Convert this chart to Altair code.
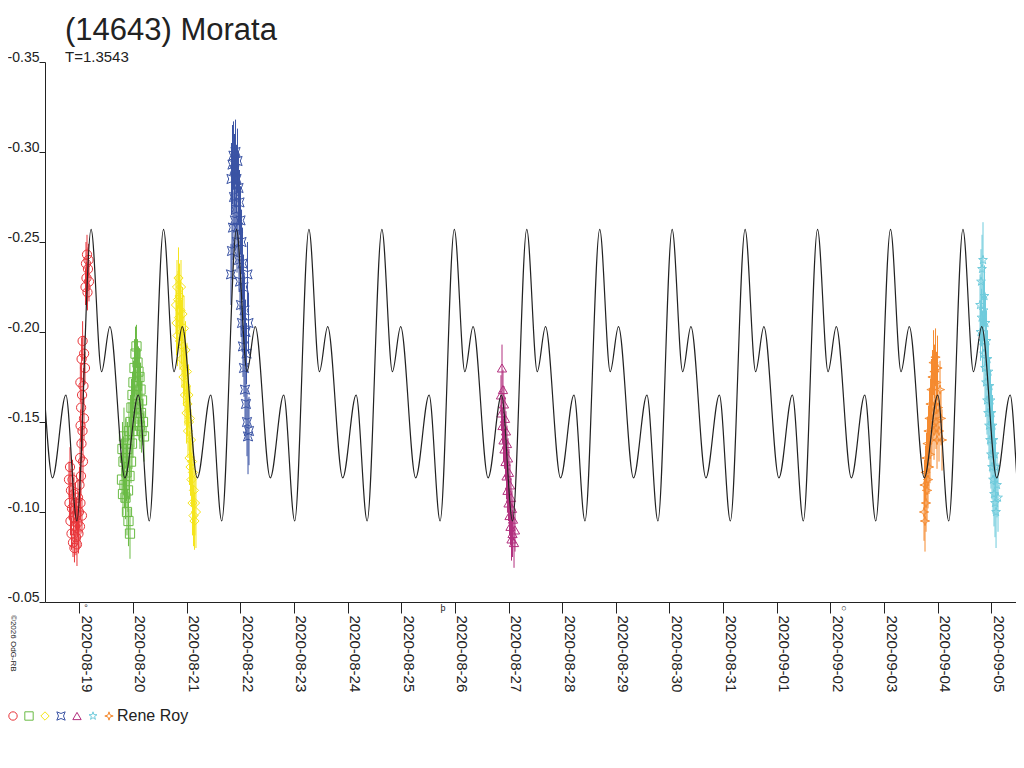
import altair as alt
import pandas as pd

# ---------------- observation sessions (days since 2020-08-19 00:00 UT, relative mag, error)
red_t = [-0.192, -0.183, -0.173, -0.164, -0.155, -0.145, -0.136, -0.127, -0.117, -0.108,
         -0.099, -0.090, -0.080, -0.071, -0.062, -0.052, -0.043, -0.034, -0.024, -0.015,
         -0.006, 0.004, 0.013, 0.022, 0.032, 0.050,
         0.015, 0.041, 0.069, 0.024, 0.060, 0.034, 0.088, 0.052, 0.020, 0.078,
         0.043, 0.090, 0.062, 0.106,
         0.116, 0.125, 0.134, 0.144, 0.153, 0.162, 0.172, 0.181]
red_m = [-0.118, -0.105, -0.125, -0.095, -0.112, -0.088, -0.102, -0.118, -0.083, -0.097,
         -0.110, -0.080, -0.092, -0.105, -0.086, -0.099, -0.082, -0.094, -0.108, -0.088,
         -0.100, -0.115, -0.092, -0.105, -0.120, -0.098,
         -0.130, -0.138, -0.128, -0.148, -0.145, -0.158, -0.152, -0.165, -0.172, -0.170,
         -0.185, -0.188, -0.195, -0.180,
         -0.225, -0.238, -0.230, -0.243, -0.222, -0.235, -0.240, -0.228]
red_e = [0.010, 0.009, 0.011, 0.008, 0.012, 0.009, 0.010, 0.011, 0.008, 0.010,
         0.012, 0.008, 0.009, 0.011, 0.010, 0.009, 0.012, 0.008, 0.010, 0.011,
         0.009, 0.010, 0.012, 0.009, 0.011, 0.010,
         0.011, 0.010, 0.012, 0.009, 0.011, 0.010, 0.012, 0.009, 0.011, 0.010,
         0.012, 0.010, 0.011, 0.009,
         0.010, 0.012, 0.009, 0.011, 0.010, 0.012, 0.009, 0.011]

green_t = [0.796, 0.805, 0.815, 0.824, 0.833, 0.843, 0.852, 0.861, 0.870, 0.880,
           0.889, 0.898, 0.908, 0.917, 0.926, 0.936, 0.945, 0.954, 0.964, 0.973,
           0.982, 0.992, 1.001, 1.010, 1.020, 1.029, 1.038, 1.048, 1.057, 1.066,
           1.075, 1.085, 1.094, 1.103, 1.113, 1.122, 1.131, 1.141, 1.150, 1.159,
           1.169, 1.187, 1.206]
green_m = [-0.118, -0.135, -0.110, -0.128, -0.142, -0.115, -0.130, -0.108, -0.138, -0.122,
           -0.100, -0.135, -0.112, -0.095, -0.145, -0.120, -0.088, -0.150, -0.128, -0.158,
           -0.138, -0.165, -0.145, -0.172, -0.150, -0.180, -0.158, -0.188, -0.165, -0.192,
           -0.170, -0.183, -0.160, -0.178, -0.152, -0.175, -0.148, -0.168, -0.155, -0.145,
           -0.162, -0.150, -0.142]
green_e = [0.013, 0.015, 0.012, 0.014, 0.016, 0.013, 0.015, 0.012, 0.014, 0.016,
           0.013, 0.015, 0.012, 0.014, 0.016, 0.013, 0.014, 0.015, 0.012, 0.016,
           0.014, 0.013, 0.015, 0.012, 0.014, 0.016, 0.013, 0.015, 0.014, 0.012,
           0.016, 0.013, 0.015, 0.014, 0.012, 0.016, 0.013, 0.015, 0.014, 0.012,
           0.015, 0.013, 0.014]

yellow_t = [1.802, 1.812, 1.821, 1.830, 1.840, 1.849, 1.858, 1.868, 1.877, 1.886,
            1.896, 1.905, 1.914, 1.924, 1.933, 1.942, 1.952, 1.961, 1.970, 1.980,
            1.989, 1.998, 2.007, 2.017, 2.026, 2.035, 2.045, 2.054, 2.063, 2.073,
            2.082, 2.091, 2.101, 2.110, 2.119, 2.129, 2.138, 2.147, 2.157, 2.175]
yellow_m = [-0.215, -0.205, -0.225, -0.198, -0.218, -0.230, -0.208, -0.220, -0.195, -0.212,
            -0.225, -0.200, -0.185, -0.210, -0.192, -0.175, -0.202, -0.180, -0.165, -0.190,
            -0.170, -0.155, -0.178, -0.160, -0.145, -0.165, -0.150, -0.130, -0.152, -0.125,
            -0.140, -0.118, -0.128, -0.105, -0.122, -0.098, -0.112, -0.095, -0.105, -0.100]
yellow_e = [0.016, 0.018, 0.015, 0.017, 0.016, 0.017, 0.015, 0.018, 0.016, 0.017,
            0.015, 0.018, 0.016, 0.015, 0.017, 0.016, 0.018, 0.015, 0.017, 0.016,
            0.015, 0.017, 0.016, 0.018, 0.015, 0.017, 0.016, 0.015, 0.018, 0.016,
            0.017, 0.015, 0.016, 0.018, 0.016, 0.017, 0.019, 0.016, 0.018, 0.020]

blue_t = [2.828, 2.837, 2.846, 2.856, 2.865, 2.874, 2.884, 2.893, 2.902, 2.912,
          2.921, 2.930, 2.940, 2.949, 2.958, 2.968, 2.977, 2.986, 2.996, 3.005,
          3.014, 3.024, 3.033, 3.042, 3.051, 3.061, 3.070, 3.079, 3.089, 3.098,
          3.107, 3.117, 3.126, 3.135, 3.145, 3.154, 3.163]
blue_m = [-0.232, -0.285, -0.245, -0.293, -0.258, -0.298, -0.275, -0.290, -0.262, -0.300,
          -0.268, -0.285, -0.250, -0.295, -0.258, -0.280, -0.240, -0.272, -0.228, -0.262,
          -0.215, -0.250, -0.205, -0.238, -0.192, -0.225, -0.180, -0.212, -0.168, -0.200,
          -0.160, -0.188, -0.150, -0.232, -0.142, -0.205, -0.145]
blue_e = [0.017, 0.020, 0.016, 0.022, 0.018, 0.019, 0.016, 0.020, 0.017, 0.018,
          0.016, 0.019, 0.017, 0.018, 0.016, 0.020, 0.017, 0.018, 0.016, 0.019,
          0.017, 0.018, 0.016, 0.020, 0.017, 0.018, 0.016, 0.019, 0.017, 0.018,
          0.020, 0.017, 0.019, 0.018, 0.021, 0.017, 0.019]

magenta_t = [7.860, 7.869, 7.879, 7.888, 7.897, 7.907, 7.916, 7.925, 7.935, 7.944,
             7.953, 7.963, 7.972, 7.981, 7.991, 8.000, 8.009, 8.019, 8.028, 8.037,
             8.047, 8.056, 8.065, 8.075, 8.084, 8.103, 8.121]
magenta_m = [-0.165, -0.155, -0.180, -0.148, -0.168, -0.140, -0.160, -0.135, -0.152, -0.128,
             -0.145, -0.120, -0.138, -0.112, -0.130, -0.105, -0.122, -0.098, -0.115, -0.092,
             -0.108, -0.085, -0.102, -0.088, -0.096, -0.083, -0.090]
magenta_e = [0.011, 0.010, 0.013, 0.010, 0.011, 0.012, 0.010, 0.011, 0.012, 0.010,
             0.011, 0.013, 0.010, 0.012, 0.011, 0.010, 0.013, 0.011, 0.012, 0.010,
             0.011, 0.012, 0.010, 0.013, 0.011, 0.014, 0.012]

orange_t = [15.745, 15.754, 15.763, 15.773, 15.782, 15.791, 15.801, 15.810, 15.819, 15.828,
            15.838, 15.847, 15.856, 15.866, 15.875, 15.884, 15.894, 15.903, 15.912, 15.922,
            15.931, 15.940, 15.950, 15.959, 15.968, 15.977, 15.987, 15.996, 16.005, 16.024,
            16.043, 16.061, 16.080]
orange_m = [-0.100, -0.115, -0.095, -0.122, -0.105, -0.130, -0.112, -0.138, -0.118, -0.145,
            -0.125, -0.152, -0.132, -0.160, -0.140, -0.168, -0.148, -0.175, -0.155, -0.183,
            -0.145, -0.178, -0.160, -0.186, -0.150, -0.172, -0.140, -0.180, -0.158, -0.145,
            -0.168, -0.152, -0.140]
orange_e = [0.016, 0.014, 0.017, 0.015, 0.016, 0.014, 0.017, 0.015, 0.016, 0.014,
            0.015, 0.017, 0.016, 0.014, 0.015, 0.017, 0.016, 0.015, 0.014, 0.018,
            0.016, 0.015, 0.017, 0.016, 0.015, 0.017, 0.016, 0.018, 0.015, 0.017,
            0.016, 0.015, 0.017]

cyan_t = [16.789, 16.798, 16.807, 16.817, 16.826, 16.835, 16.844, 16.854, 16.863, 16.872,
          16.882, 16.891, 16.900, 16.910, 16.919, 16.928, 16.938, 16.947, 16.956, 16.966,
          16.975, 16.984, 16.993, 17.003, 17.012, 17.021, 17.031, 17.040, 17.049, 17.059,
          17.068, 17.077, 17.087, 17.105, 17.124]
cyan_m = [-0.215, -0.200, -0.228, -0.208, -0.235, -0.195, -0.240, -0.212, -0.188, -0.220,
          -0.180, -0.205, -0.172, -0.195, -0.162, -0.185, -0.155, -0.178, -0.148, -0.170,
          -0.140, -0.162, -0.132, -0.155, -0.125, -0.148, -0.118, -0.140, -0.110, -0.132,
          -0.105, -0.125, -0.100, -0.115, -0.108]
cyan_e = [0.017, 0.016, 0.018, 0.016, 0.019, 0.017, 0.021, 0.016, 0.018, 0.017,
          0.019, 0.016, 0.018, 0.017, 0.019, 0.016, 0.018, 0.017, 0.019, 0.016,
          0.018, 0.017, 0.019, 0.016, 0.018, 0.017, 0.019, 0.016, 0.018, 0.017,
          0.019, 0.016, 0.020, 0.018, 0.019]

# ---------------- model lightcurve (extrema)
peak_epochs = [-1.13, 0.22, 1.57, 2.93, 4.28, 5.64, 6.99, 8.34, 9.70, 11.05,
               12.41, 13.76, 15.12, 16.47, 17.82]
cycle_offsets = [0.0, 0.196, 0.35, 0.63, 0.88, 1.085]
cycle_mags = [-0.257, -0.178, -0.203, -0.119, -0.165, -0.095]

# ---------------- axis / legend labels
date_labels = ["2020-08-19", "2020-08-20", "2020-08-21", "2020-08-22", "2020-08-23",
               "2020-08-24", "2020-08-25", "2020-08-26", "2020-08-27", "2020-08-28",
               "2020-08-29", "2020-08-30", "2020-08-31", "2020-09-01", "2020-09-02",
               "2020-09-03", "2020-09-04", "2020-09-05"]
y_ticks = [-0.35, -0.30, -0.25, -0.20, -0.15, -0.10, -0.05]
moon_t = [0.11, 6.75, 14.22]
moon_sym = ["°", "þ", "○"]

session_ids = ["S1", "S2", "S3", "S4", "S5", "S6", "S7"]
session_colors = ["#e8353a", "#6abb45", "#f5e51b", "#3a53a4", "#b2307e", "#6fcbdc", "#f58a2f"]
STAR5 = ("M0,-1L0.235,-0.324L0.951,-0.309L0.38,0.124L0.588,0.809L0,0.4"
         "L-0.588,0.809L-0.38,0.124L-0.951,-0.309L-0.235,-0.324Z")
STAR4 = "M0,-1L0.25,-0.25L1,0L0.25,0.25L0,1L-0.25,0.25L-1,0L-0.25,-0.25Z"
BOWTIE = "M-1,-1L0,-0.6L1,-1L0.6,0L1,1L0,0.6L-1,1L-0.6,0Z"
session_shapes = ["circle", "square", "diamond", BOWTIE, "triangle-up", STAR5, STAR4]

sessions = [
    ("S1", red_t, red_m, red_e),
    ("S2", green_t, green_m, green_e),
    ("S3", yellow_t, yellow_m, yellow_e),
    ("S4", blue_t, blue_m, blue_e),
    ("S5", magenta_t, magenta_m, magenta_e),
    ("S7", orange_t, orange_m, orange_e),
    ("S6", cyan_t, cyan_m, cyan_e),
]
rows = []
for sid, ts, ms, es in sessions:
    assert len(ts) == len(ms) == len(es), (sid, len(ts), len(ms), len(es))
    for t, m, e in zip(ts, ms, es):
        rows.append({"session": sid, "t": t, "mag": m, "err": e})
obs = pd.DataFrame(rows)

curve = pd.DataFrame(
    [{"t": round(p + o, 4), "mag": m} for p in peak_epochs for o, m in zip(cycle_offsets, cycle_mags)]
)
moons = pd.DataFrame({"t": moon_t, "sym": moon_sym})

FONT = "Liberation Sans"
INK = "#222222"

xscale = alt.Scale(domain=[-0.639, 17.459], nice=False, zero=False)
yscale = alt.Scale(domain=[-0.35, -0.05], reverse=True, nice=False, zero=False)
cscale = alt.Scale(domain=session_ids, range=session_colors)
sscale = alt.Scale(domain=session_ids, range=session_shapes)

label_array = "[" + ",".join("'%s'" % d for d in date_labels) + "]"
xaxis = alt.Axis(values=list(range(len(date_labels))), labelExpr=label_array + "[datum.value]",
                 labelAngle=90, labelAlign="left", labelBaseline="alphabetic", labelOffset=2,
                 labelPadding=2, tickSize=11, labelFontSize=15, labelFont=FONT,
                 labelColor=INK, domainColor=INK, tickColor=INK, grid=False,
                 labelFlush=False, labelOverlap=False, title=None)
yaxis = alt.Axis(values=y_ticks, labelExpr="replace(format(datum.value, '.2f'), '\u2212', '-')",
                 tickSize=6, labelPadding=0, labelOffset=-1, labelFontSize=14, labelFont=FONT,
                 labelBaseline="alphabetic", labelColor=INK, domainColor=INK, tickColor=INK,
                 grid=False, labelFlush=False, labelOverlap=False, title=None)

legend = alt.Legend(orient="none", legendX=-40, legendY=646, direction="horizontal", title=None,
                    labelExpr="datum.value == 'S7' ? '\u00a0\u00a0Rene Roy' : ''", symbolSize=70,
                    symbolStrokeWidth=1, labelOffset=0, columnPadding=0,
                    labelFontSize=16, labelFont=FONT, labelColor=INK, padding=0)

bars = alt.Chart(obs).mark_rule(strokeWidth=1).transform_calculate(
    lo="datum.mag - datum.err", hi="datum.mag + datum.err"
).encode(
    x=alt.X("t:Q", scale=xscale, axis=xaxis),
    y=alt.Y("lo:Q", scale=yscale, axis=yaxis),
    y2="hi:Q",
    color=alt.Color("session:N", scale=cscale, legend=legend, title=None),
)

points = alt.Chart(obs).mark_point(filled=False, size=85, strokeWidth=1, opacity=1).encode(
    x=alt.X("t:Q", scale=xscale, axis=xaxis),
    y=alt.Y("mag:Q", scale=yscale, axis=yaxis),
    color=alt.Color("session:N", scale=cscale, legend=legend, title=None),
    shape=alt.Shape("session:N", scale=sscale, legend=legend, title=None),
)

model = alt.Chart(curve).mark_line(color=INK, strokeWidth=1.2, interpolate="monotone", clip=True).encode(
    x=alt.X("t:Q", scale=xscale, axis=xaxis),
    y=alt.Y("mag:Q", scale=yscale, axis=yaxis),
)

moon_marks = alt.Chart(moons).mark_text(fontSize=9, font=FONT, color=INK, baseline="top", align="left", dx=-1).encode(
    x=alt.X("t:Q", scale=xscale, axis=xaxis),
    y=alt.value(542),
    text="sym:N",
)

credit = alt.Chart(pd.DataFrame({"c": ["©2026 OdG-RB"]})).mark_text(
    angle=90, align="left", baseline="middle", fontSize=8, font=FONT, color=INK
).encode(x=alt.value(-32), y=alt.value(553), text="c:N")

chart = alt.layer(bars, points, model, moon_marks, credit).properties(
    width=971,
    height=540,
    padding={"left": 37, "top": 54, "right": 0, "bottom": 150},
    autosize=alt.AutoSizeParams(type="none"),
    title=alt.TitleParams("(14643) Morata", subtitle="T=1.3543", anchor="start", frame="group",
                          dx=20, offset=-16, fontSize=31, subtitleFontSize=15, font=FONT,
                          subtitleFont=FONT, fontWeight="normal", color=INK, subtitleColor=INK,
                          subtitlePadding=3),
).configure(background="white").configure_view(stroke=None)

chart.save("out.html", embed_options={"renderer": "svg", "actions": False})
